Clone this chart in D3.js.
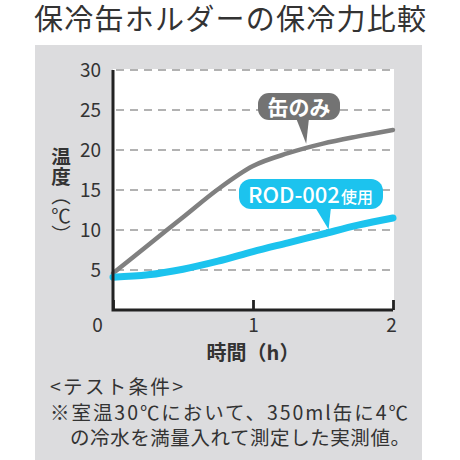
<!DOCTYPE html>
<html>
<head>
<meta charset="utf-8">
<script src="https://cdn.jsdelivr.net/npm/d3@7"></script>
<style>
	body { margin: 0; background: #fff; }
	svg text { font-family: "Noto Sans CJK JP", "Noto Sans", sans-serif; fill: #333; }
</style>
</head>
<body>
<svg id="chart" width="460" height="460"></svg>
<script>
var hours = [0, 0.25, 0.5, 0.75, 1, 1.25, 1.5, 1.75, 2];
var canOnly = [4.6, 8.1, 11.6, 15.1, 18.0, 19.6, 20.8, 21.7, 22.5];
var withHolder = [4.1, 4.4, 5.1, 6.1, 7.3, 8.4, 9.5, 10.6, 11.5];
var yTicks = [5, 10, 15, 20, 25, 30];
var xTicks = [0, 1, 2];
var seriesNames = ["缶のみ", "ROD-002", "使用"];
var titleText = "保冷缶ホルダーの保冷力比較";
var notes = ["<テスト条件>", "※室温30℃において、350ml缶に4℃", "の冷水を満量入れて測定した実測値。"];

buildChart();

function buildChart() {
	var svg = d3.select("#chart");

	var x = d3.scaleLinear().domain([0, 2]).range([113, 393]);
	var y = d3.scaleLinear().domain([0, 30]).range([310, 70]);

	svg.append("text")
		.attr("x", 230).attr("y", 30)
		.attr("text-anchor", "middle")
		.attr("textLength", 392)
		.attr("lengthAdjust", "spacing")
		.style("font-size", "29px")
		.text(titleText);

	// grey panel
	svg.append("rect")
		.attr("x", 35).attr("y", 45)
		.attr("width", 387).attr("height", 415)
		.attr("fill", "#dcdcde");

	svg.append("rect")
		.attr("x", x(0)).attr("y", y(30) - 1)
		.attr("width", x(2) - x(0) + 1).attr("height", y(0) - y(30) + 1)
		.attr("fill", "#fff");

	// dashed grid
	svg.append("g")
		.selectAll("line")
		.data(yTicks)
		.enter().append("line")
			.attr("x1", x(0) + 3).attr("x2", x(2))
			.attr("y1", function(d) { return y(d); })
			.attr("y2", function(d) { return y(d); })
			.attr("stroke", "#999")
			.attr("stroke-width", 1.6)
			.attr("stroke-dasharray", "8,6");

	var line = d3.line()
		.x(function(d, i) { return x(hours[i]); })
		.y(function(d) { return y(d); })
		.curve(d3.curveMonotoneX);

	svg.append("path")
		.datum(canOnly)
		.attr("d", line)
		.attr("fill", "none")
		.attr("stroke", "#808080")
		.attr("stroke-width", 4.5)
		.attr("stroke-linecap", "round");

	svg.append("path")
		.datum(withHolder)
		.attr("d", line)
		.attr("fill", "none")
		.attr("stroke", "#1cc3ee")
		.attr("stroke-width", 7)
		.attr("stroke-linecap", "round");

	// axes
	var yAxis = svg.append("g")
		.attr("transform", "translate(" + (x(0) - 12) + ",0)")
		.call(d3.axisLeft(y).tickValues(yTicks).tickSize(0).tickPadding(0));
	yAxis.select(".domain").remove();
	yAxis.selectAll("text")
		.attr("dy", "0.36em")
		.style("font-size", "19px")
		.style("font-family", "'Noto Sans CJK JP', sans-serif")
		.attr("fill", "#333");

	var xAxis = svg.append("g")
		.attr("transform", "translate(0," + y(0) + ")")
		.call(d3.axisBottom(x).tickValues(xTicks).tickFormat(d3.format("d"))
			.tickSizeInner(-10).tickSizeOuter(0).tickPadding(9));
	xAxis.select(".domain").remove();
	xAxis.selectAll("line")
		.attr("stroke", "#222")
		.attr("stroke-width", 2.8);
	xAxis.selectAll("text")
		.style("font-size", "19px")
		.style("font-family", "'Noto Sans CJK JP', sans-serif")
		.attr("fill", "#333")
		.attr("dx", function(d) { return d === 0 ? -16 : (d === 2 ? -2 : 0); });

	svg.append("path")
		.attr("d", "M" + x(0) + "," + y(30) + "V" + y(0) + "H" + x(2))
		.attr("fill", "none")
		.attr("stroke", "#222")
		.attr("stroke-width", 3);

	// axis titles
	var yTitle = svg.append("text")
		.attr("x", 61).attr("y", 147)
		.attr("writing-mode", "vertical-rl")
		.style("writing-mode", "vertical-rl")
		.style("font-size", "19.5px");
	yTitle.append("tspan").style("font-weight", "bold").text("温度");
	yTitle.append("tspan").text("（℃）");

	svg.append("text")
		.attr("x", x(1)).attr("y", 360)
		.attr("text-anchor", "middle")
		.style("font-size", "20px")
		.style("font-weight", "bold")
		.text("時間（h）");

	// callouts
	var grey = svg.append("g");
	grey.append("rect")
		.attr("x", 258).attr("y", 93)
		.attr("width", 82).attr("height", 27)
		.attr("rx", 11)
		.attr("fill", "#737373");
	grey.append("path")
		.attr("d", "M296,118L" + x(1.38) + "," + (y(20.4) - 3) + "L309,118Z")
		.attr("fill", "#737373");
	grey.append("text")
		.attr("x", 299).attr("y", 115)
		.attr("text-anchor", "middle")
		.style("font-size", "21px")
		.style("font-weight", "bold")
		.style("fill", "#fff")
		.text(seriesNames[0]);

	var blue = svg.append("g");
	blue.append("rect")
		.attr("x", 239).attr("y", 179)
		.attr("width", 144).attr("height", 30)
		.attr("rx", 12)
		.attr("fill", "#1cc3ee");
	blue.append("path")
		.attr("d", "M315,207L" + x(1.54) + "," + (y(9.7) - 3) + "L331,207Z")
		.attr("fill", "#1cc3ee");
	var bt = blue.append("text")
		.attr("x", 248).attr("y", 203)
		.style("fill", "#fff")
		.style("font-weight", "500");
	bt.append("tspan").style("font-size", "22px").text(seriesNames[1]);
	bt.append("tspan").style("font-size", "16px").attr("dx", 1).text(seriesNames[2]);

	// notes
	var noteX = [50, 50, 70];
	var noteY = [394, 420, 445];
	var noteW = [133, 358, 340];
	svg.append("g")
		.selectAll("text")
		.data(notes)
		.enter().append("text")
			.attr("x", function(d, i) { return noteX[i]; })
			.attr("y", function(d, i) { return noteY[i]; })
			.attr("textLength", function(d, i) { return noteW[i]; })
			.attr("lengthAdjust", "spacing")
			.style("font-size", "19.5px")
			.text(function(d) { return d; });
}
</script>
</body>
</html>
